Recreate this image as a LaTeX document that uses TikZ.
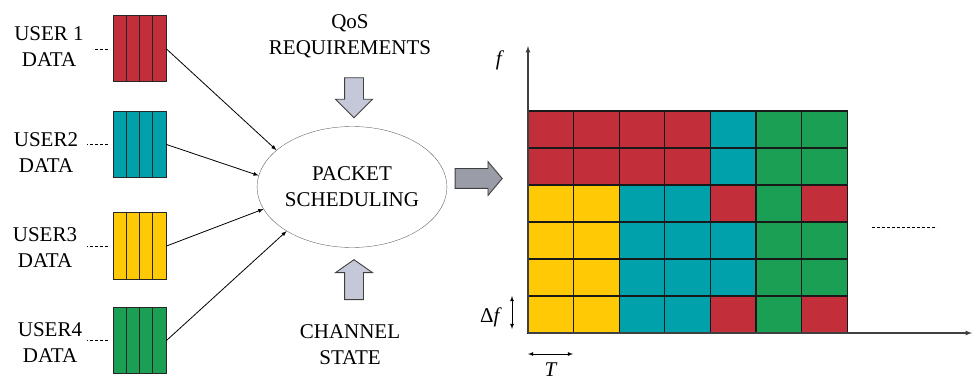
\documentclass[tikz,border=0pt]{standalone}
\usepackage{fontspec}
\setmainfont{Liberation Serif}
\usetikzlibrary{positioning,shapes,arrows}

\definecolor{ured}{HTML}{C22F3A}
\definecolor{ucyan}{HTML}{00A1AB}
\definecolor{uyellow}{HTML}{FFC906}
\definecolor{ugreen}{HTML}{1A9F55}
\definecolor{arrlight}{HTML}{C5C8D8}
\definecolor{arrdark}{HTML}{9A9CA8}

\begin{document}
\begin{tikzpicture}[
x=1pt, y=-1pt, >=latex,
queue/.style={rectangle, draw=black!85, line width=1pt, minimum width=53pt, minimum height=66pt, inner sep=0pt,
  path picture={\foreach \k in {1,2,3} \draw[black!85, line width=1pt] ([xshift=\k*13.25pt]path picture bounding box.south west) -- ([xshift=\k*13.25pt]path picture bounding box.north west);}},
txt/.style={font=\fontsize{21}{26}\selectfont, align=center, inner sep=0pt},
sched/.style={ellipse, draw=black!60, thin, minimum width=166pt, minimum height=121pt, inner sep=0pt},
blockarrow/.style={single arrow, draw=black!75, line width=0.9pt, fill=arrlight, inner xsep=0pt, inner ysep=9pt, single arrow head extend=9pt, minimum height=40pt},
cell/.style={draw=black!90, line width=1.1pt},
]
\useasboundingbox (0,0) rectangle (973,379);

% user queues
\node[queue, fill=ured] (u1) at (139.5,49) {};
\node[queue, fill=ucyan] (u2) at (139.5,144.5) {};
\node[queue, fill=uyellow] (u3) at (139.5,246) {};
\node[queue, fill=ugreen] (u4) at (139.5,340.5) {};

\node[txt] (l1) at (49,46.5) {USER 1\\DATA};
\node[txt] (l2) at (46,153) {USER2\\DATA};
\node[txt] (l3) at (45,247.5) {USER3\\DATA};
\node[txt] (l4) at (50,342.5) {USER4\\DATA};

\draw[densely dashed, thick] ([xshift=-5pt]u1.west) -- ++(-15,0);
\draw[densely dashed, thick] ([xshift=-5pt]u2.west) -- ++(-21,0);
\draw[densely dashed, thick] ([xshift=-5pt]u3.west) -- ++(-21,0);
\draw[densely dashed, thick] ([xshift=-5pt]u4.west) -- ++(-21,0);

% scheduler
\node[sched, txt] (ps) at (352,187) {PACKET\\SCHEDULING};
\node[txt] (qos) at (350,36) {QoS\\REQUIREMENTS};
\node[txt] (chan) at (350,345) {CHANNEL\\STATE};
\node[blockarrow, rotate=-90] (qarr) at (354,93) {};
\node[blockarrow, rotate=90, single arrow tip angle=110] (carr) at (354,283) {};
\node[blockarrow, fill=arrdark, inner ysep=9.5pt, minimum height=47pt, single arrow head extend=7pt, single arrow tip angle=100] (oarr) at (474.5,178.5) {};

\draw[->, thick] (u1.east) -- (ps.154);
\draw[->, thick] (u2.east) -- (ps.173);
\draw[->, thick] (u3.east) -- (ps.194);
\draw[->, thick] (u4.east) -- (ps.214);

% resource grid
\foreach \cols [count=\r from 0] in {
  {ured,ured,ured,ured,ucyan,ugreen,ugreen},
  {ured,ured,ured,ured,ucyan,ugreen,ugreen},
  {uyellow,uyellow,ucyan,ucyan,ured,ugreen,ured},
  {uyellow,uyellow,ucyan,ucyan,ucyan,ugreen,ugreen},
  {uyellow,uyellow,ucyan,ucyan,ucyan,ugreen,ugreen},
  {uyellow,uyellow,ucyan,ucyan,ured,ugreen,ured}}
  \foreach \c [count=\k from 0] in \cols
    \draw[cell, fill=\c] (528+\k*45.6,111+\r*37) rectangle ++(45.6,37);

\coordinate (orig) at (528,333);
\coordinate (ftop) at (528,46);
\coordinate (tend) at (972,333);
\draw[->, black!75, line width=1.2pt] (orig) -- (ftop);
\draw[->, black!75, line width=1.2pt] (orig) -- (tend);

\node[txt] (flbl) at (500,60) {\textit{f}};
\node[txt] (dflbl) at (491,317) {Δ\textit{f}};
\node[txt, anchor=base] (tlbl) at (551,376) {\textit{T}};

\coordinate (dftop) at (512,296);
\coordinate (dfbot) at (512,329);
\draw[<->, thick] (dftop) -- (dfbot);
\coordinate (tleft) at (528,354);
\coordinate (tright) at (573,354);
\draw[<->, thick] (tleft) -- (tright);

\coordinate (more1) at (872,227);
\coordinate (more2) at (937,227);
\draw[densely dashed, thick] (more1) -- (more2);

\end{tikzpicture}
\end{document}
